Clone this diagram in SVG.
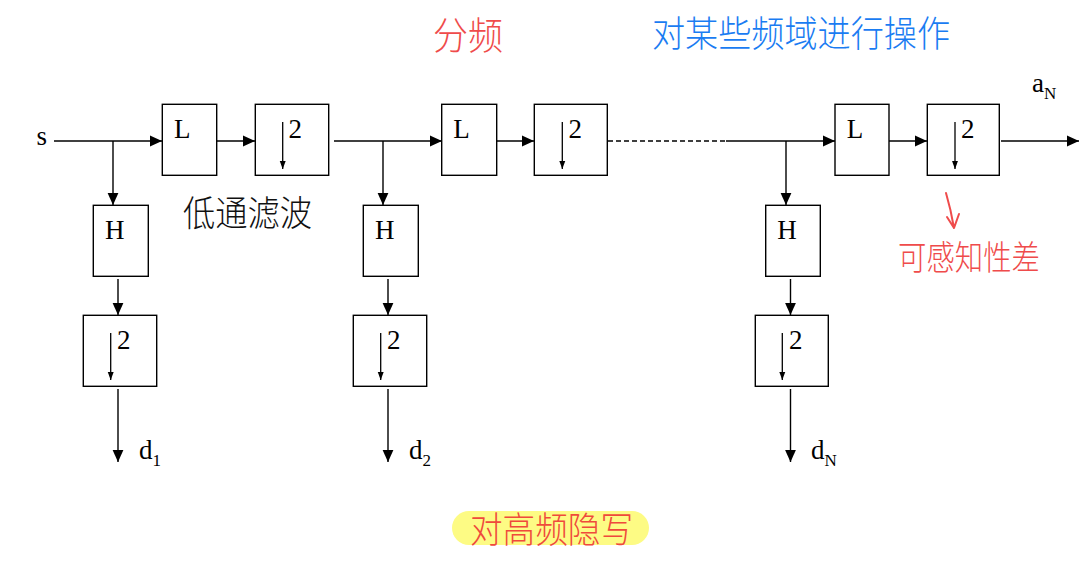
<svg xmlns="http://www.w3.org/2000/svg" width="1090" height="563" viewBox="0 0 1090 563">
<style>
.box{fill:#fff;stroke:#000;stroke-width:1.4}
.ln{fill:none;stroke:#000;stroke-width:1.4}
.in{fill:none;stroke:#000;stroke-width:1.3}
.t{font-family:"Liberation Serif","Times New Roman",serif;font-size:27px;fill:#000}
.sub{font-family:"Liberation Serif","Times New Roman",serif;font-size:17px;fill:#000}
.hw{font-family:"Noto Sans CJK SC",sans-serif;font-weight:300}
</style>
<defs>
<marker id="ah" markerUnits="userSpaceOnUse" markerWidth="12" markerHeight="12" viewBox="0 0 10 10" refX="10" refY="5" orient="auto">
<path d="M0,0.5 L10,5 L0,9.5 Z" fill="#000"/>
</marker>
<marker id="as" markerUnits="userSpaceOnUse" markerWidth="8" markerHeight="8" viewBox="0 0 10 10" refX="10" refY="5" orient="auto">
<path d="M0,1.3 L10,5 L0,8.7 Z" fill="#000"/>
</marker>
</defs>
<rect width="1090" height="563" fill="#fff"/>

<g id="connectors">
<line class="ln" x1="54" y1="141" x2="162" y2="141" marker-end="url(#ah)"/>
<line class="ln" x1="113" y1="141" x2="113" y2="205" marker-end="url(#ah)"/>
<line class="ln" x1="217" y1="141" x2="255" y2="141" marker-end="url(#ah)"/>
<line class="ln" x1="334" y1="141" x2="442" y2="141" marker-end="url(#ah)"/>
<line class="ln" x1="383" y1="141" x2="383" y2="205" marker-end="url(#ah)"/>
<line class="ln" x1="497" y1="141" x2="534" y2="141" marker-end="url(#ah)"/>
<line class="ln" x1="608" y1="141" x2="726" y2="141" stroke-width="1.2" stroke-dasharray="5,3"/>
<line class="ln" x1="726" y1="141" x2="835" y2="141" marker-end="url(#ah)"/>
<line class="ln" x1="786" y1="141" x2="786" y2="205" marker-end="url(#ah)"/>
<line class="ln" x1="889" y1="141" x2="927" y2="141" marker-end="url(#ah)"/>
<line class="ln" x1="1001" y1="141" x2="1079" y2="141" marker-end="url(#ah)"/>
<line class="ln" x1="118" y1="279" x2="118" y2="315" marker-end="url(#ah)"/>
<line class="ln" x1="118" y1="389" x2="118" y2="462" marker-end="url(#ah)"/>
<line class="ln" x1="388" y1="279" x2="388" y2="315" marker-end="url(#ah)"/>
<line class="ln" x1="388" y1="389" x2="388" y2="462" marker-end="url(#ah)"/>
<line class="ln" x1="790.5" y1="279" x2="790.5" y2="315" marker-end="url(#ah)"/>
<line class="ln" x1="790.5" y1="389" x2="790.5" y2="462" marker-end="url(#ah)"/>
</g>

<g id="L1"><rect class="box" x="162.3" y="104.3" width="54.4" height="71"/><text class="t" x="174" y="137.7">L</text></g>
<g id="D1"><rect class="box" x="255.3" y="104.3" width="73.4" height="71"/><line class="in" x1="282.7" y1="122" x2="282.7" y2="169" marker-end="url(#as)"/><text class="t" x="288.5" y="137.7">2</text></g>
<g id="H1"><rect class="box" x="93.3" y="205.3" width="55" height="71"/><text class="t" x="105" y="239.3">H</text></g>
<g id="DH1"><rect class="box" x="83.3" y="315.3" width="73.4" height="71"/><line class="in" x1="110.7" y1="333" x2="110.7" y2="380" marker-end="url(#as)"/><text class="t" x="117" y="348.5">2</text></g>

<g id="L2"><rect class="box" x="441.7" y="104.3" width="55" height="71"/><text class="t" x="453.3" y="137.7">L</text></g>
<g id="D2"><rect class="box" x="534.3" y="104.3" width="73" height="71"/><line class="in" x1="562.3" y1="122" x2="562.3" y2="169" marker-end="url(#as)"/><text class="t" x="568.5" y="137.7">2</text></g>
<g id="H2"><rect class="box" x="363.3" y="205.3" width="55" height="71"/><text class="t" x="375" y="239.3">H</text></g>
<g id="DH2"><rect class="box" x="353.3" y="315.3" width="73.4" height="71"/><line class="in" x1="380.7" y1="333" x2="380.7" y2="380" marker-end="url(#as)"/><text class="t" x="387" y="348.5">2</text></g>

<g id="L3"><rect class="box" x="835" y="104.3" width="54" height="71"/><text class="t" x="846.7" y="137.7">L</text></g>
<g id="D3"><rect class="box" x="927.3" y="104.3" width="72" height="71"/><line class="in" x1="955" y1="122" x2="955" y2="169" marker-end="url(#as)"/><text class="t" x="961" y="137.7">2</text></g>
<g id="H3"><rect class="box" x="765.7" y="205.3" width="54.6" height="71"/><text class="t" x="777.3" y="239.3">H</text></g>
<g id="DH3"><rect class="box" x="755.3" y="315.3" width="73" height="71"/><line class="in" x1="782.3" y1="333" x2="782.3" y2="380" marker-end="url(#as)"/><text class="t" x="789" y="348.5">2</text></g>

<g id="labels">
<text class="t" x="36.5" y="145">s</text>
<text class="t" x="139" y="459">d</text><text class="sub" x="152.5" y="466">1</text>
<text class="t" x="409" y="459">d</text><text class="sub" x="422.5" y="466">2</text>
<text class="t" x="811" y="459">d</text><text class="sub" x="824.5" y="466">N</text>
<text class="t" x="1032" y="92">a</text><text class="sub" x="1044" y="99">N</text>
</g>

<g id="annotations">
<text class="hw" x="183" y="226" font-size="35" fill="#111" textLength="129" lengthAdjust="spacingAndGlyphs">低通滤波</text>
<text class="hw" x="433" y="49" font-size="38" fill="#ef4b4b" font-weight="400" textLength="70" lengthAdjust="spacingAndGlyphs">分频</text>
<text class="hw" x="652" y="47" font-size="36" fill="#1a7cf2" font-weight="400" textLength="298" lengthAdjust="spacingAndGlyphs">对某些频域进行操作</text>
<path d="M946,193 Q951,210 954,228 M947,217 L954,228 L959,214" fill="none" stroke="#ef4b4b" stroke-width="2" stroke-linecap="round" stroke-linejoin="round"/>
<text class="hw" x="898" y="270" font-size="34" fill="#ef4b4b" textLength="142" lengthAdjust="spacingAndGlyphs">可感知性差</text>
<rect x="452" y="511" width="197" height="34" rx="17" fill="#fdfb84"/>
<text class="hw" x="470" y="543" font-size="36" fill="#ef4a3c" font-weight="400" textLength="163" lengthAdjust="spacingAndGlyphs">对高频隐写</text>
</g>
</svg>
